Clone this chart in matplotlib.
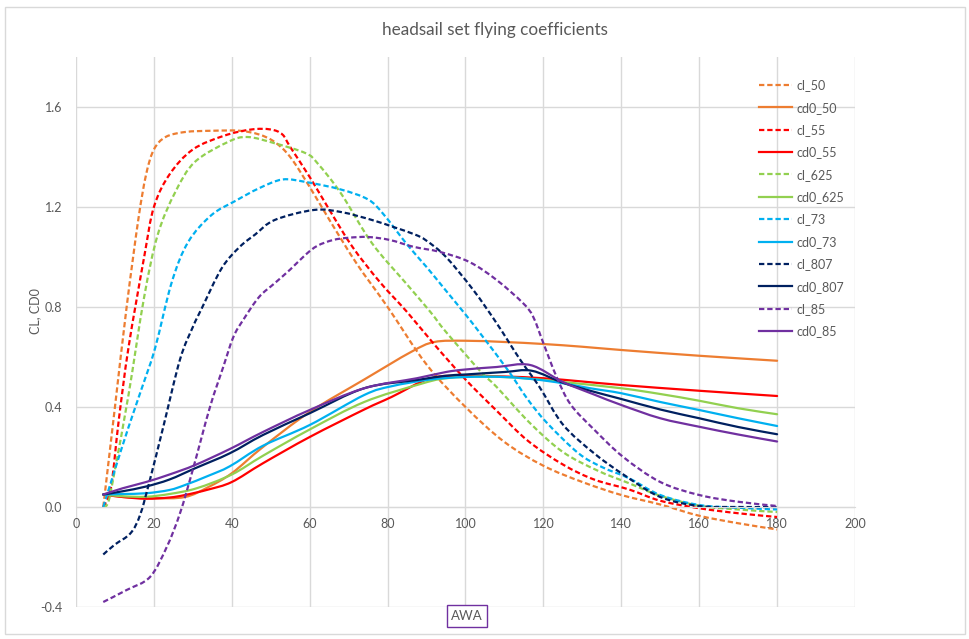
import matplotlib
matplotlib.use("Agg")
import matplotlib.pyplot as plt
from matplotlib.patches import Rectangle, PathPatch
from matplotlib.path import Path
from matplotlib.lines import Line2D

# ---- data (AWA in degrees) ----
cl_50_x = [7, 10, 13, 16, 18, 20, 23, 28, 35, 42, 47, 51, 55, 60, 65, 72, 80, 90, 100, 110, 120, 130, 140, 150, 160, 170, 180]
cl_50_y = [0.0, 0.40, 0.80, 1.15, 1.33, 1.43, 1.48, 1.50, 1.505, 1.505, 1.49, 1.46, 1.40, 1.28, 1.15, 0.975, 0.80, 0.57, 0.40, 0.26, 0.165, 0.10, 0.048, 0.01, -0.035, -0.065, -0.09]

cd0_50_x = [7, 12, 20, 28, 34, 40, 48, 60, 74, 86, 92, 100, 110, 120, 130, 140, 160, 180]
cd0_50_y = [0.05, 0.04, 0.035, 0.04, 0.08, 0.135, 0.24, 0.38, 0.51, 0.62, 0.66, 0.665, 0.66, 0.652, 0.641, 0.628, 0.605, 0.585]

cl_55_x = [7, 9, 11, 13.5, 17.5, 20, 24, 30, 38, 45, 50, 53, 55, 60, 65, 71, 78, 85, 92, 100, 108, 116, 125, 133, 142, 150, 160, 170, 180]
cl_55_y = [0.0, 0.08, 0.35, 0.64, 1.0, 1.2, 1.33, 1.43, 1.485, 1.51, 1.51, 1.49, 1.44, 1.32, 1.19, 1.04, 0.90, 0.78, 0.65, 0.51, 0.385, 0.265, 0.17, 0.11, 0.07, 0.025, -0.005, -0.025, -0.04]

cd0_55_x = [7, 12, 18, 24, 28, 34, 40, 48, 60, 74, 81, 91, 100, 110, 120, 130, 140, 160, 180]
cd0_55_y = [0.05, 0.04, 0.033, 0.038, 0.048, 0.07, 0.10, 0.175, 0.28, 0.39, 0.44, 0.515, 0.525, 0.522, 0.515, 0.502, 0.488, 0.465, 0.444]

cl_625_x = [7, 8.3, 10, 13.5, 17.5, 21, 25.5, 30.5, 39, 44, 51, 59, 62, 68, 76, 85, 91, 95, 104, 108, 116.6, 125, 134, 142, 150, 160, 170, 180]
cl_625_y = [0.0, 0.02, 0.15, 0.45, 0.84, 1.09, 1.26, 1.38, 1.46, 1.48, 1.455, 1.415, 1.375, 1.255, 1.055, 0.89, 0.78, 0.70, 0.54, 0.48, 0.335, 0.22, 0.145, 0.095, 0.045, 0.005, -0.01, -0.02]

cd0_625_x = [7, 12, 18, 24, 31, 40, 48, 60, 74, 88, 95, 105, 115, 125, 140, 150, 160, 170, 180]
cd0_625_y = [0.05, 0.043, 0.041, 0.052, 0.075, 0.13, 0.205, 0.31, 0.42, 0.49, 0.515, 0.522, 0.515, 0.50, 0.475, 0.452, 0.425, 0.395, 0.371]

cl_73_x = [7, 10, 13.5, 17, 20.3, 24.6, 28.8, 34.8, 41, 47, 53, 59, 68, 75, 79, 85, 90, 95, 100, 104, 111, 116, 121, 129, 135, 142, 150, 160, 170, 180]
cl_73_y = [0.0, 0.15, 0.32, 0.48, 0.635, 0.90, 1.06, 1.168, 1.225, 1.275, 1.31, 1.30, 1.27, 1.23, 1.17, 1.05, 0.96, 0.865, 0.77, 0.69, 0.545, 0.43, 0.335, 0.215, 0.16, 0.115, 0.048, 0.008, -0.003, -0.01]

cd0_73_x = [7, 12, 18, 24, 28, 34, 39.5, 48, 60, 74, 81, 91, 100, 110, 118, 125, 132, 140, 150, 160, 170, 180]
cd0_73_y = [0.05, 0.052, 0.055, 0.068, 0.088, 0.125, 0.163, 0.245, 0.328, 0.448, 0.483, 0.51, 0.52, 0.52, 0.51, 0.495, 0.475, 0.455, 0.42, 0.388, 0.355, 0.324]

cl_807_x = [7, 10, 14, 16.5, 19, 22.4, 26.7, 30, 32.3, 37.4, 42, 46, 51, 61, 68, 76, 81.5, 87, 90, 95, 102, 108, 114, 119, 125, 133, 141, 150, 160, 170, 180]
cl_807_y = [-0.19, -0.15, -0.105, -0.03, 0.11, 0.32, 0.59, 0.72, 0.795, 0.955, 1.04, 1.09, 1.148, 1.188, 1.18, 1.148, 1.12, 1.09, 1.065, 1.00, 0.868, 0.735, 0.59, 0.48, 0.33, 0.215, 0.125, 0.04, 0.004, 0.0, 0.0]

cd0_807_x = [7, 12, 18, 24, 30.6, 39.5, 48, 60, 74, 87.5, 95, 100, 110, 117, 125, 132, 140, 150, 160, 170, 180]
cd0_807_y = [0.05, 0.063, 0.082, 0.11, 0.155, 0.215, 0.288, 0.375, 0.475, 0.508, 0.525, 0.53, 0.54, 0.545, 0.497, 0.465, 0.432, 0.39, 0.355, 0.32, 0.291]

cl_85_x = [7, 13, 19, 23.3, 26.7, 30, 34.4, 37.8, 40.4, 43, 47, 51, 55, 59, 62, 66, 70, 75, 80.6, 86.6, 93.5, 101, 108, 114.8, 117.4, 120, 123.4, 127, 133, 140.5, 150, 160, 170, 180]
cl_85_y = [-0.38, -0.332, -0.28, -0.16, -0.025, 0.15, 0.40, 0.56, 0.68, 0.75, 0.84, 0.895, 0.95, 1.01, 1.045, 1.068, 1.077, 1.08, 1.068, 1.041, 1.02, 0.98, 0.908, 0.815, 0.76, 0.655, 0.52, 0.41, 0.31, 0.20, 0.10, 0.048, 0.021, 0.004]

cd0_85_x = [7, 12, 18, 24, 30.6, 39.5, 48, 60, 74, 87.5, 95, 100, 108, 116.6, 125, 133, 140, 150, 160, 170, 180]
cd0_85_y = [0.05, 0.075, 0.10, 0.13, 0.168, 0.232, 0.30, 0.388, 0.475, 0.515, 0.54, 0.55, 0.56, 0.568, 0.50, 0.45, 0.408, 0.355, 0.321, 0.29, 0.262]

series = [
    ("cl_50", cl_50_x, cl_50_y, "#ED7D31", True),
    ("cd0_50", cd0_50_x, cd0_50_y, "#ED7D31", False),
    ("cl_55", cl_55_x, cl_55_y, "#FF0000", True),
    ("cd0_55", cd0_55_x, cd0_55_y, "#FF0000", False),
    ("cl_625", cl_625_x, cl_625_y, "#92D050", True),
    ("cd0_625", cd0_625_x, cd0_625_y, "#92D050", False),
    ("cl_73", cl_73_x, cl_73_y, "#00B0F0", True),
    ("cd0_73", cd0_73_x, cd0_73_y, "#00B0F0", False),
    ("cl_807", cl_807_x, cl_807_y, "#002060", True),
    ("cd0_807", cd0_807_x, cd0_807_y, "#002060", False),
    ("cl_85", cl_85_x, cl_85_y, "#7030A0", True),
    ("cd0_85", cd0_85_x, cd0_85_y, "#7030A0", False),
]

x_ticks = [0, 20, 40, 60, 80, 100, 120, 140, 160, 180, 200]
y_ticks = [-0.4, 0.0, 0.4, 0.8, 1.2, 1.6]

title = "headsail set flying coefficients"
xlabel = "AWA"
ylabel = "CL, CD0"

plt.rcParams['font.family'] = ['Lato', 'DejaVu Sans']
txt_color = "#595959"
grid_color = "#D9D9D9"
DASH = [2.4, 1.3]
LW = 1.6


def smooth_path(xs, ys):
    """Excel-style smoothed line: Catmull-Rom segments drawn as cubic Beziers."""
    pts = list(zip(xs, ys))
    n = len(pts)
    verts = [pts[0]]
    codes = [Path.MOVETO]
    for i in range(n - 1):
        p0 = pts[i - 1] if i > 0 else pts[i]
        p1 = pts[i]
        p2 = pts[i + 1]
        p3 = pts[i + 2] if i + 2 < n else pts[i + 1]
        c1 = (p1[0] + (p2[0] - p0[0]) / 6.0, p1[1] + (p2[1] - p0[1]) / 6.0)
        c2 = (p2[0] - (p3[0] - p1[0]) / 6.0, p2[1] - (p3[1] - p1[1]) / 6.0)
        verts += [c1, c2, p2]
        codes += [Path.CURVE4, Path.CURVE4, Path.CURVE4]
    return Path(verts, codes)


fig = plt.figure(figsize=(9.7, 6.39), dpi=100)
W, H = 970, 639
ax = fig.add_axes([76 / W, 1 - 607 / H, (855 - 76) / W, (607 - 57) / H])

handles = []
for name, xs, ys, col, dashed in series:
    patch = PathPatch(smooth_path(xs, ys), fill=False, ec=col, lw=LW,
                      joinstyle='round', capstyle='butt' if dashed else 'round')
    if dashed:
        patch.set_linestyle((0, DASH))
    ax.add_patch(patch)
    h = Line2D([], [], color=col, lw=LW, label=name)
    if dashed:
        h.set_dashes(DASH)
    handles.append(h)

ax.set_xlim(0, 200)
ax.set_ylim(-0.4, 1.8)
ax.set_xticks(x_ticks)
ax.set_yticks(y_ticks)
ax.set_yticklabels([f"{v:.1f}" for v in y_ticks])
ax.grid(True, color=grid_color, lw=1.0)
ax.set_axisbelow(True)
for s in ['top', 'right', 'left']:
    ax.spines[s].set_visible(False)
ax.spines['bottom'].set_position(('data', 0))
ax.spines['bottom'].set_color(grid_color)
ax.tick_params(axis='both', length=0, labelcolor=txt_color, labelsize=9)
ax.tick_params(axis='x', pad=8)
ax.tick_params(axis='y', pad=10)

fig.text(495 / W, 1 - 30 / H, title, ha='center', va='center', fontsize=12.3, color=txt_color)
fig.text(35 / W, 1 - 311 / H, ylabel, ha='center', va='center', rotation=90, fontsize=9, color=txt_color)
fig.text(467 / W, 1 - 616 / H, xlabel, ha='center', va='center', fontsize=9.5, color=txt_color,
         bbox=dict(boxstyle='square,pad=0.35', fc='white', ec='#7030A0', lw=1.0))

leg = ax.legend(handles=handles, loc='upper left', bbox_to_anchor=(748 / W, 1 - 68 / H),
                bbox_transform=fig.transFigure, frameon=False, fontsize=9, handlelength=2.6,
                labelspacing=0.83, handletextpad=0.35, labelcolor=txt_color)

fig.patches.append(Rectangle((5 / W, 1 - 634 / H), 960 / W, 627 / H, transform=fig.transFigure,
                             fill=False, ec=grid_color, lw=1.0))

fig.savefig("out.png", dpi=100)
